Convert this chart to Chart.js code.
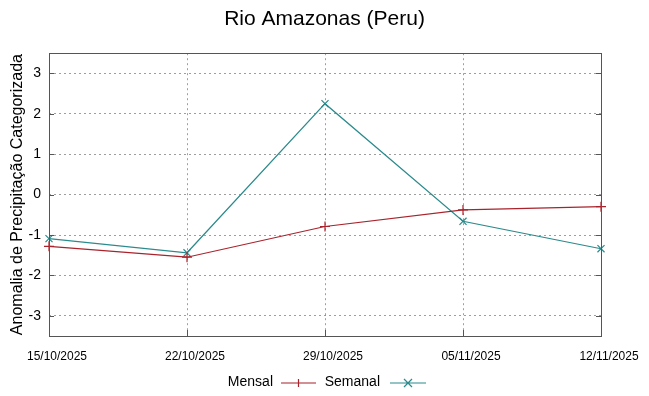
<!DOCTYPE html>
<html>
<head>
<meta charset="utf-8">
<title>Rio Amazonas (Peru)</title>
<script src="https://cdn.jsdelivr.net/npm/chart.js@4"></script>
<style>
  html, body { margin: 0; padding: 0; background: #fff; }
  #wrap { width: 649px; height: 396px; position: relative; }
</style>
</head>
<body>
<div id="wrap"><canvas id="chart" width="649" height="396"></canvas></div>
<script>
const dates = ["15/10/2025", "22/10/2025", "29/10/2025", "05/11/2025", "12/11/2025"];
const mensal = [-1.28, -1.55, -0.79, -0.38, -0.30];
const semanal = [-1.09, -1.44, 2.25, -0.66, -1.34];
const yTicks = [-3, -2, -1, 0, 1, 2, 3];

const RED = "#a8232b";
const TEAL = "#2b8a8c";
const FONT = "'Liberation Sans', Arial, sans-serif";
const GRID = "rgba(0,0,0,0.38)";

/* inside tick marks and plot frame, like gnuplot */
const frame = {
  id: "frame",
  afterDatasetsDraw(chart) {
    const { ctx, chartArea: a, scales } = chart;
    ctx.save();
    ctx.strokeStyle = "#555";
    ctx.lineWidth = 1;
    ctx.beginPath();
    for (const v of yTicks) {
      const y = Math.round(scales.y.getPixelForValue(v)) + 0.5;
      ctx.moveTo(a.left, y); ctx.lineTo(a.left + 5, y);
      ctx.moveTo(a.right, y); ctx.lineTo(a.right - 5, y);
    }
    dates.forEach((d, i) => {
      const x = Math.round(scales.x.getPixelForValue(i)) + 0.5;
      ctx.moveTo(x, a.bottom); ctx.lineTo(x, a.bottom - 6);
    });
    ctx.stroke();
    ctx.strokeRect(Math.round(a.left) + 0.5, Math.round(a.top) + 0.5,
      Math.round(a.right - a.left), Math.round(a.bottom - a.top));
    ctx.restore();
  },
};

/* legend below the plot: text first, then the line sample */
const bottomLegend = {
  id: "bottomLegend",
  afterDraw(chart) {
    const { ctx } = chart;
    const y = 383;
    const items = [
      { label: "Mensal", color: RED, mark: "plus", textEnd: 273, x0: 281, x1: 316 },
      { label: "Semanal", color: TEAL, mark: "x", textEnd: 380, x0: 390, x1: 426 },
    ];
    ctx.save();
    ctx.font = "14px " + FONT;
    ctx.textAlign = "right";
    ctx.textBaseline = "middle";
    for (const it of items) {
      ctx.fillStyle = "#000";
      ctx.fillText(it.label, it.textEnd, y - 1);
      ctx.strokeStyle = it.color;
      ctx.lineWidth = 1.2;
      ctx.beginPath();
      ctx.moveTo(it.x0, y); ctx.lineTo(it.x1, y);
      const cx = (it.x0 + it.x1) / 2, r = 4;
      if (it.mark === "plus") {
        ctx.moveTo(cx, y - r); ctx.lineTo(cx, y + r);
      } else {
        ctx.moveTo(cx - r, y - r); ctx.lineTo(cx + r, y + r);
        ctx.moveTo(cx - r, y + r); ctx.lineTo(cx + r, y - r);
      }
      ctx.stroke();
    }
    ctx.restore();
  },
};

new Chart(document.getElementById("chart"), {
  type: "line",
  data: {
    labels: dates,
    datasets: [
      {
        label: "Mensal",
        data: mensal,
        borderColor: RED,
        backgroundColor: RED,
        borderWidth: 1.2,
        pointStyle: "cross",
        pointRadius: 5,
        pointBorderWidth: 1.2,
        tension: 0,
        clip: false,
      },
      {
        label: "Semanal",
        data: semanal,
        borderColor: TEAL,
        backgroundColor: TEAL,
        borderWidth: 1.2,
        pointStyle: "crossRot",
        pointRadius: 5,
        pointBorderWidth: 1.2,
        tension: 0,
        clip: false,
      },
    ],
  },
  options: {
    responsive: false,
    animation: false,
    devicePixelRatio: 1,
    layout: { padding: 0 },
    plugins: {
      legend: { display: false },
      tooltip: { enabled: false },
      title: {
        display: true,
        text: "Rio Amazonas (Peru)",
        color: "#000",
        font: { family: FONT, size: 21, weight: "normal" },
        padding: { top: 7, bottom: 21 },
      },
    },
    scales: {
      x: {
        type: "category",
        offset: false,
        afterFit: (s) => { s.height = 60; },
        grid: { color: GRID, lineWidth: 1, drawTicks: false },
        border: { display: false, dash: [2, 3] },
        ticks: {
          color: "#000",
          font: { family: FONT, size: 12 },
          padding: 13,
          labelOffset: 8,
          maxRotation: 0,
          autoSkip: false,
        },
      },
      y: {
        min: -3.5,
        max: 3.5,
        afterFit: (s) => { s.width = 49; },
        afterBuildTicks: (s) => { s.ticks = yTicks.map((v) => ({ value: v })); },
        grid: { color: GRID, lineWidth: 1, drawTicks: false },
        border: { display: false, dash: [2, 3] },
        ticks: {
          color: "#000",
          font: { family: FONT, size: 14 },
          padding: 8,
        },
        title: {
          display: true,
          text: "Anomalia de Precipitação Categorizada",
          color: "#000",
          font: { family: FONT, size: 16 },
          padding: { top: 8, bottom: 0 },
        },
      },
      // empty right axis, only keeps room on the right of the plot
      y2: {
        position: "right",
        min: -3.5,
        max: 3.5,
        afterFit: (s) => { s.width = 48; },
        grid: { drawOnChartArea: false, drawTicks: false },
        border: { display: false },
        ticks: { display: false },
      },
    },
  },
  plugins: [frame, bottomLegend],
});
</script>
</body>
</html>
